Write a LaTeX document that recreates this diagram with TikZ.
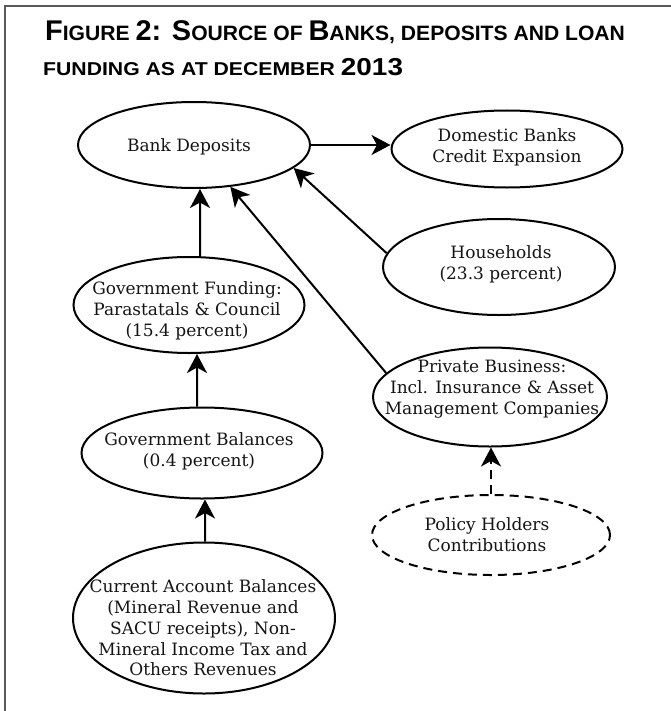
\documentclass[tikz,border=0pt]{standalone}
\usepackage{fontspec}
\usepackage{graphicx}
\setmainfont{DejaVu Serif}
\newfontfamily\titlefont{Liberation Sans}
\usetikzlibrary{shapes.geometric,arrows.meta}
\newsavebox\titleboxA
\newsavebox\titleboxB
\newcommand\TBa[1]{{\fontsize{28.5bp}{28bp}\selectfont #1}}
\newcommand\TSa[1]{{\fontsize{20.8bp}{20bp}\selectfont #1}}
\newcommand\TBb[1]{{\fontsize{24.5bp}{24bp}\selectfont #1}}
\newcommand\TSb[1]{{\fontsize{18.6bp}{18bp}\selectfont #1}}
\tikzset{
  ell/.style={draw=black, line width=2bp, ellipse, inner sep=0pt},
  dashell/.style={ell, dash pattern=on 9bp off 6bp},
  txt/.style={align=center, text=black!92, inner sep=0pt,
    font=\fontsize{17bp}{20.8bp}\selectfont},
  arr/.style={draw=black, line width=2bp, -{Stealth[length=19bp,width=20bp,inset=5.5bp]}},
  dasharr/.style={arr, dash pattern=on 9bp off 6bp},
  frame/.style={draw=black!65, line width=1.6bp},
  ttl/.style={anchor=base west, inner sep=0pt, text=black!90}
}
\begin{document}
\sbox\titleboxA{\titlefont\bfseries\TBa{F}\TSa{IGURE }\TBa{2: S}\TSa{OURCE OF }\TBa{B}\TSa{ANKS, DEPOSITS AND LOAN}}%
\sbox\titleboxB{\titlefont\bfseries\TSb{FUNDING AS AT DECEMBER }\TBb{2013}}%
\pgfmathsetmacro\sxA{581.94/\wd\titleboxA}%
\pgfmathsetmacro\sxB{361.2/\wd\titleboxB}%
\begin{tikzpicture}[x=1bp,y=-1bp]
\useasboundingbox (0,0) rectangle (671,711);
\draw[frame] (5,711) -- (5,6) -- (671,6);
% title
\node[ttl] (t1) at (45,40.5) {\scalebox{\sxA}[1]{\usebox\titleboxA}};
\node[ttl] (t2) at (43,76) {\scalebox{\sxB}[1]{\usebox\titleboxB}};
% ellipses
\node[ell, minimum width=232bp, minimum height=86bp] (bd) at (194,145) {};
\node[ell, minimum width=231bp, minimum height=77bp] (dom) at (507,149) {};
\node[ell, minimum width=232bp, minimum height=96bp] (hh) at (499,267) {};
\node[ell, minimum width=234bp, minimum height=99bp] (pb) at (490,397) {};
\node[ell, minimum width=231bp, minimum height=96bp] (gf) at (189,305) {};
\node[ell, minimum width=241bp, minimum height=91bp] (gb) at (202,453) {};
\node[ell, minimum width=262bp, minimum height=151bp] (ca) at (204,618) {};
\node[dashell, minimum width=238bp, minimum height=80bp] (ph) at (491,535) {};
% texts
\node[txt] (bdt) at (189,147) {Bank Deposits};
\node[txt] (domt) at (507,147) {Domestic Banks\\Credit Expansion};
\node[txt] (hht) at (501,264) {Households\\(23.3 percent)};
\node[txt] (pbt) at (492,389) {Private Business:\\Incl. Insurance \& Asset\\Management Companies};
\node[txt] (gft) at (187,311) {Government Funding:\\Parastatals \& Council\\(15.4 percent)};
\node[txt] (gbt) at (199,451) {Government Balances\\(0.4 percent)};
\node[txt] (cat) at (203,628) {Current Account Balances\\(Mineral Revenue and\\SACU receipts), Non-\\Mineral Income Tax and\\Others Revenues};
\node[txt] (pht) at (487,535) {Policy Holders\\Contributions};
% connectors
\draw[arr] (bd.east) -- (bd.east -| dom.west);
\draw[arr] ([xshift=11bp]gf.north) -- ([xshift=6bp]bd.south);
\draw[arr] ([xshift=-5bp]gb.north) -- ([xshift=8bp]gf.south);
\draw[arr] ([xshift=1bp]ca.north) -- ([xshift=3bp]gb.south);
\draw[arr] (hh.173) -- (bd.-13);
\draw[arr] (pb.167) -- (bd.-49);
\draw[dasharr] (ph.north) -- (ph.north |- pb.south);
\end{tikzpicture}
\end{document}
